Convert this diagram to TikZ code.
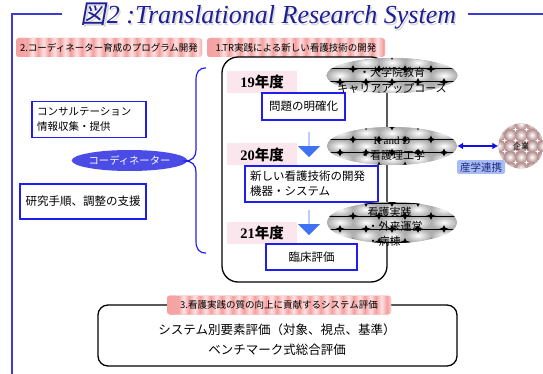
\documentclass[tikz,border=0pt]{standalone}
\usepackage{fontspec}
\setmainfont{Liberation Serif}
\newfontfamily\jp{Noto Sans CJK JP}
\newfontfamily\jpslant[FakeSlant=0.18]{Noto Sans CJK JP}
\usetikzlibrary{shapes.geometric,shapes.arrows,arrows.meta}

\definecolor{titleblue}{HTML}{1E1E96}
\definecolor{frameblue}{HTML}{3C3CD2}
\definecolor{boxblue}{HTML}{1E1EF0}
\definecolor{coordblue}{HTML}{4B4BE6}
\definecolor{arrowblue}{HTML}{3F72F2}
\definecolor{linkblue}{HTML}{1010E6}
\definecolor{tagblue}{HTML}{A9BBF3}
\definecolor{tagtext}{HTML}{1C2A80}
\definecolor{pinkbase}{HTML}{F4A0A0}
\definecolor{pinklight}{HTML}{FDE2E2}
\definecolor{yearpink}{HTML}{FCE6EE}
\definecolor{tilegray}{HTML}{AEAEAE}
\definecolor{tilebrown}{HTML}{B89292}

\newcommand{\fsz}[2]{\fontsize{#1}{#2}\selectfont}

% grey tiled ellipse with black rails and four-point stars
\newcommand{\railellipse}[4]{%
  \begin{scope}
    \clip (#1,#2) ellipse [x radius=#3, y radius=#4];
    \begin{scope}[shift={(#1,#2)}]
      \fill[tilegray] (-70,-25) rectangle (70,25);
      \foreach \ty in {-26,-13,0,13,26}
        \foreach \tx in {-78,-52,-26,0,26,52,78}
          \shade[inner color=white, outer color=tilegray]
            (\tx-13,\ty-6.5) rectangle (\tx+13,\ty+6.5);
      \foreach \yy/\off in {-19.5/0,-6.5/13,6.5/0,19.5/13} {
        \draw[line width=1pt] (-70,\yy) -- (70,\yy);
        \foreach \sx in {-78,-52,-26,0,26,52,78}
          \fill[shift={(\sx+\off,\yy)}]
            (-5,0) -- (-1.3,-1.3) -- (0,-4) -- (1.3,-1.3) -- (5,0)
            -- (1.3,1.3) -- (0,4) -- (-1.3,1.3) -- cycle;
      }
    \end{scope}
  \end{scope}}

% rose tiled disc with white sparkles
\newcommand{\rosedisc}[3]{%
  \begin{scope}
    \clip (#1,#2) circle [radius=#3];
    \begin{scope}[shift={(#1,#2)}]
      \fill[tilebrown] (-25,-25) rectangle (25,25);
      \foreach \ty in {-22,-11,0,11,22}
        \foreach \tx in {-22,-11,0,11,22}
          \shade[inner color=white, outer color=tilebrown]
            (\tx-5.5,\ty-5.5) rectangle (\tx+5.5,\ty+5.5);
      \foreach \ty in {-16.5,-5.5,5.5,16.5}
        \foreach \tx in {-16.5,-5.5,5.5,16.5}
          \fill[white, shift={(\tx,\ty)}]
            (-2.5,0) -- (-0.6,-0.6) -- (0,-2.5) -- (0.6,-0.6) -- (2.5,0)
            -- (0.6,0.6) -- (0,2.5) -- (-0.6,0.6) -- cycle;
    \end{scope}
  \end{scope}}

\tikzset{
  x=1pt, y=-1pt,
  bluebox/.style={draw=boxblue, line width=1.3pt, fill=white, inner sep=0pt},
  pinklabel/.style={rounded corners=3pt, fill=pinkbase, inner xsep=4pt, inner ysep=0pt,
    minimum height=19pt, font=\jp\fsz{9.5}{11},
    path picture={
      \foreach \i in {0,...,24}
        \shade[left color=pinkbase, right color=pinkbase, middle color=pinklight]
          ([xshift=\i*11pt]path picture bounding box.south west) rectangle
          ([xshift=\i*11pt+11pt]path picture bounding box.north west);
    }},
  yearlabel/.style={fill=yearpink, minimum width=70pt, minimum height=22pt, inner sep=0pt,
    font=\bfseries\fsz{14.5}{16}},
  downarrow/.style={single arrow, fill=arrowblue, rotate=-90, inner sep=0pt,
    minimum height=25pt, minimum width=22pt, single arrow head extend=6pt},
  theme/.style={ellipse, inner sep=0pt},
  elltext/.style={inner sep=0pt, font=\jp\fsz{11}{15}},
}

\begin{document}
\begin{tikzpicture}
\useasboundingbox (0,0) rectangle (543,374);

% frame lines beside the title
\draw[frameblue, line width=1.5pt] (62,14) -- (12,14) -- (12,374);
\draw[frameblue, line width=1.5pt] (468,14) -- (543,14);

% title with soft shadow
\node[anchor=base, text=gray!30, font=\fsz{26}{30}] (titleshadow) at (270,25.5)
  {{\jpslant 図}\itshape 2 :Translational Research System};
\node[anchor=base, text=titleblue, font=\fsz{26}{30}] (title) at (268.5,24)
  {{\jpslant 図}\itshape 2 :Translational Research System};

% section headings
\node[pinklabel, minimum width=186pt] (lab2) at (109,47.5) {2.コーディネーター育成のプログラム開発};
\node[pinklabel, minimum width=178pt] (lab1) at (296,47.5) {1.TR実践による新しい看護技術の開発};

% coordinator side
\node[bluebox, minimum width=114pt, minimum height=36pt, text width=104pt, align=left,
      font=\jp\fsz{10.5}{15}] (consult) at (89,119.5) {コンサルテーション\\情報収集・提供};
\node[ellipse, fill=coordblue, minimum width=97pt, minimum height=21pt, inner sep=0pt,
      text=white, font=\jp\fsz{10.3}{12}] (coord) at (129.5,160.5) {コーディネーター};
\node[bluebox, minimum width=126pt, minimum height=35pt, font=\jp\fsz{11.5}{14}]
      (support) at (83,201.5) {研究手順、調整の支援};

% brace
\draw[boxblue, line width=1.2pt] (206,68) .. controls (199,68) and (196,72) .. (196,80)
  -- (196,150) .. controls (196,157) and (192,161) .. (185,161)
  .. controls (192,161) and (196,165) .. (196,172)
  -- (196,241) .. controls (196,249) and (199,253) .. (206,253);

% yearly track
\node[draw, line width=1.3pt, rounded corners=16pt, minimum width=165pt, minimum height=225pt]
      (track) at (304.5,169.5) {};

\node[yearlabel] (y19) at (262,82) {19{\jp 年度}};
\node[yearlabel] (y20) at (262,154.5) {20{\jp 年度}};
\node[yearlabel] (y21) at (262,233) {21{\jp 年度}};

\node[bluebox, minimum width=83pt, minimum height=27pt, font=\jp\fsz{11.5}{14}]
      (clarify) at (303.5,106.5) {問題の明確化};
\node[bluebox, minimum width=133pt, minimum height=36pt, text width=123pt, align=left,
      font=\jp\fsz{11.5}{15}] (develop) at (311.5,184) {新しい看護技術の開発\\機器・システム};
\node[bluebox, minimum width=91pt, minimum height=26pt, font=\jp\fsz{11.5}{14}]
      (clinical) at (311.5,257) {臨床評価};

\node[downarrow] (ar1) at (309,144.5) {};
\node[downarrow] (ar2) at (309,222.5) {};

% patterned themes along the track
\railellipse{392}{75.5}{65.5}{17.5}
\railellipse{392}{146}{65}{19}
\railellipse{392}{222.5}{65}{20.5}
\node[theme, minimum width=131pt, minimum height=35pt] (grad) at (392,75.5) {};
\node[theme, minimum width=130pt, minimum height=38pt] (rd) at (392,146) {};
\node[theme, minimum width=130pt, minimum height=41pt] (prac) at (392,222.5) {};

\node[elltext, align=center, font=\jp\fsz{11}{16}] (gradt) at (392,80) {・大学院教育\\キャリアアップコース};
\node[elltext, align=center] (rdt) at (392,148.5) {{\rmfamily R and D}\\・看護理工学};
\node[elltext, align=left, font=\jp\fsz{11}{14.5}] (pract) at (395,226.5) {看護実践\\・外来運営\\・病棟};

% industry partner
\rosedisc{521}{146}{22.5}
\node[circle, minimum size=45pt, inner sep=0pt, font=\jp\fsz{8}{9}] (kigyo) at (521,146) {企業};
\draw[linkblue, line width=1.8pt, {Latex[length=6pt,width=7pt]}-{Latex[length=6pt,width=7pt]}]
  (rd.east) -- (kigyo.west);
\node[fill=tagblue, rounded corners=2pt, text=tagtext, font=\jp\fsz{10.5}{12},
      inner xsep=3pt, inner ysep=2pt] (tag) at (481,167) {産学連携};

% system evaluation
\node[draw, line width=1.3pt, rounded corners=10pt, minimum width=359pt, minimum height=61pt]
      (evalbox) at (277.5,335.5) {};
\node[align=center, inner sep=0pt, font=\jp\fsz{12.5}{20}] (evaltext) at (277,339.5)
  {システム別要素評価（対象、視点、基準）\\ベンチマーク式総合評価};
\node[pinklabel, minimum width=224pt] (lab3) at (279,305) {3.看護実践の質の向上に貢献するシステム評価};
\end{tikzpicture}
\end{document}
